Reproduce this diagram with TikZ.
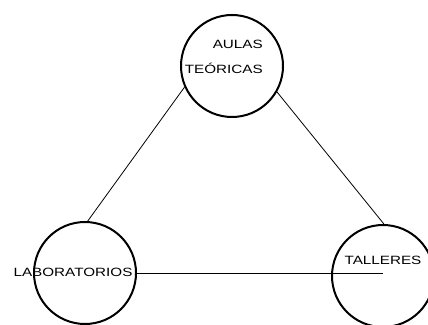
\documentclass[tikz,border=0pt]{standalone}
\usepackage{fontspec}
\setmainfont{Liberation Sans}
\tikzset{
  zona/.style={circle, draw, line width=2pt, minimum size=102pt, inner sep=0pt},
  enlace/.style={line width=0.8pt},
  rotulo/.style={font=\fontsize{12}{14}\selectfont, inner sep=0pt, xscale=1.27, transform shape}
}

\begin{document}
\begin{tikzpicture}[x=1pt, y=1pt]
  \useasboundingbox (0,0) rectangle (428,324);
  % zonas
  \node[zona] (aulas) at (232,258) {};
  \node[zona] (lab) at (85,51) {};
  \node[zona] (talleres) at (383,48) {};
  \coordinate (fin) at (383,51);
  % relaciones
  \draw[enlace] (aulas.204) -- (lab.87);
  \draw[enlace] (aulas.330) -- (talleres.89);
  \draw[enlace] (lab.east) -- (fin);
  % textos
  \node[rotulo, anchor=east] at (263,280) {AULAS};
  \node[rotulo, anchor=east] at (263,256) {TEÓRICAS};
  \node[rotulo] at (73,52) {LABORATORIOS};
  \node[rotulo] at (383,64) {TALLERES};
\end{tikzpicture}
\end{document}
